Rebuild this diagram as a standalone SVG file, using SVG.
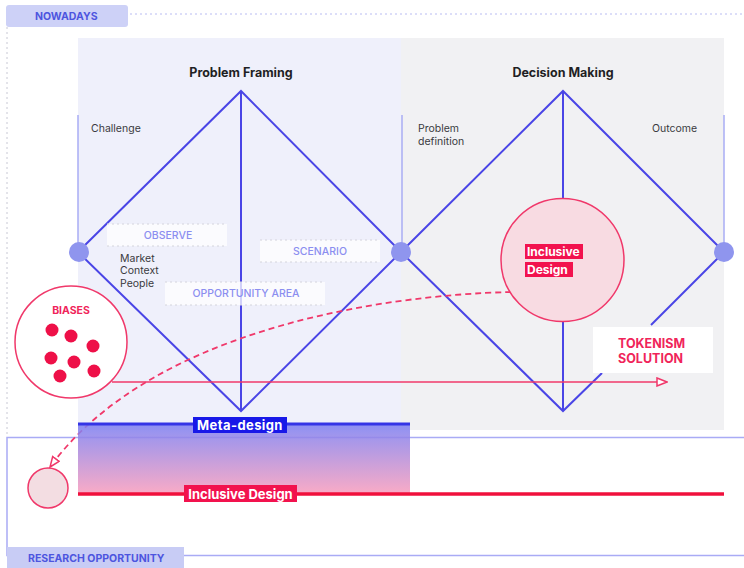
<svg xmlns="http://www.w3.org/2000/svg" width="744" height="568" viewBox="0 0 744 568">
<style>
text{font-family:Inter,"Liberation Sans",sans-serif}
.title{font-size:12.5px;font-weight:700;fill:#1f1f24;text-anchor:middle}
.lbl{font-size:10.5px;fill:#3a3a40}
.tag{font-size:10.5px;font-weight:500;fill:#8b8ef0;text-anchor:middle}
.tab{font-size:10.5px;font-weight:700;fill:#4d55df}
.dia{stroke:#4a45e6;stroke-width:2;fill:none}
.thin{stroke:#a9acf5;stroke-width:1.5}
.dot{fill:#8f95ee}
.dotline{stroke:#d4d4dc;stroke-width:1;stroke-dasharray:2 3}
.red{font-weight:700;fill:#f0245a}
.wt{font-weight:700;fill:#fff}
</style>
<defs>
<linearGradient id="grad" x1="0" y1="0" x2="0" y2="1">
<stop offset="0" stop-color="#7a7ef2"/>
<stop offset="1" stop-color="#f79cbd"/>
</linearGradient>
<marker id="openArrow" viewBox="0 0 12 10" refX="11" refY="5" markerWidth="12" markerHeight="10" markerUnits="userSpaceOnUse" orient="auto">
<path d="M1,1 L11,5 L1,9 Z" fill="#fff" stroke="#f0386a" stroke-width="1.5"/>
</marker>
</defs>

<!-- frames -->
<g id="frames">
<rect x="0" y="0" width="744" height="568" fill="#fff"/>
<rect x="78" y="38" width="323" height="392" fill="#eff0fb"/>
<rect x="401" y="38" width="323" height="392" fill="#f1f1f3"/>
<line x1="130" y1="14" x2="744" y2="14" stroke="#b9bcf2" stroke-width="1" stroke-dasharray="2 3"/>
<line x1="7" y1="27" x2="7" y2="437" stroke="#c8c8d4" stroke-width="1" stroke-dasharray="2 3"/>
<rect x="7" y="437.5" width="740" height="118" fill="none" stroke="#a9abf5" stroke-width="1.5"/>
</g>

<g id="tab-nowadays">
<rect x="6" y="5" width="122" height="22" rx="3" fill="#cdd1f7"/>
<text class="tab" x="35" y="20">NOWADAYS</text>
</g>

<g id="tab-research">
<rect x="7" y="547" width="177" height="21" fill="#c8ccf5"/>
<text class="tab" x="28" y="562">RESEARCH OPPORTUNITY</text>
</g>

<!-- connectors -->
<g id="connectors">
<line class="thin" x1="78" y1="115" x2="78" y2="252"/>
<line class="thin" x1="402" y1="115" x2="402" y2="252"/>
<line class="thin" x1="724" y1="115" x2="724" y2="252"/>
<path class="dia" d="M78,252 L241,91 L401,252 L241,411 Z"/>
<line class="dia" x1="241" y1="91" x2="241" y2="411"/>
<path class="dia" d="M401,252 L563,91 L724,252"/>
<path class="dia" d="M401,252 L563,411 L602,373"/>
<line class="dia" x1="724" y1="252" x2="651" y2="325"/>
<line class="dia" x1="563" y1="91" x2="563" y2="198"/>
<line class="dia" x1="563" y1="322" x2="563" y2="411"/>
<line x1="112" y1="382" x2="667" y2="382" stroke="#f0386a" stroke-width="1.5" marker-end="url(#openArrow)"/>
<path d="M511,292 C380,295 150,330 50,467" fill="none" stroke="#f0386a" stroke-width="1.8" stroke-dasharray="6 4" marker-end="url(#openArrow)"/>
</g>

<g id="problem-framing">
<text class="title" x="241" y="77">Problem Framing</text>
<text class="lbl" x="91" y="132">Challenge</text>
</g>

<g id="decision-making">
<text class="title" x="563" y="77">Decision Making</text>
<text class="lbl" x="418" y="132">Problem</text>
<text class="lbl" x="418" y="145">definition</text>
<text class="lbl" x="652" y="132">Outcome</text>
</g>

<g id="nodes-dots">
<circle class="dot" cx="79" cy="252" r="10"/>
<circle class="dot" cx="401" cy="252" r="10"/>
<circle class="dot" cx="724" cy="252" r="10"/>
</g>

<g id="observe">
<rect x="107" y="224" width="120" height="22" fill="#fff" fill-opacity="0.75"/>
<line class="dotline" x1="107" y1="224" x2="227" y2="224"/>
<line class="dotline" x1="107" y1="246" x2="227" y2="246"/>
<text class="tag" x="168" y="239">OBSERVE</text>
</g>
<g id="market">
<text class="lbl" x="120" y="262">Market</text>
<text class="lbl" x="120" y="274">Context</text>
<text class="lbl" x="120" y="287">People</text>
</g>
<g id="scenario">
<rect x="260" y="240" width="120" height="22" fill="#fff" fill-opacity="0.75"/>
<line class="dotline" x1="260" y1="240" x2="380" y2="240"/>
<line class="dotline" x1="260" y1="262" x2="380" y2="262"/>
<text class="tag" x="320" y="255">SCENARIO</text>
</g>
<g id="opportunity-area">
<rect x="165" y="282" width="160" height="23" fill="#fff" fill-opacity="0.75"/>
<line class="dotline" x1="165" y1="282" x2="325" y2="282"/>
<line class="dotline" x1="165" y1="305" x2="325" y2="305"/>
<text class="tag" x="246" y="297">OPPORTUNITY AREA</text>
</g>

<g id="biases">
<circle cx="71" cy="342" r="56" fill="#fff" stroke="#f0386a" stroke-width="1.5"/>
<text class="red" x="71" y="314" font-size="10.5" text-anchor="middle">BIASES</text>
<g fill="#ee1048">
<circle cx="52" cy="330" r="6.5"/>
<circle cx="71" cy="336" r="6.5"/>
<circle cx="93" cy="346" r="6.5"/>
<circle cx="51" cy="358" r="6.5"/>
<circle cx="74" cy="362" r="6.5"/>
<circle cx="94" cy="371" r="6.5"/>
<circle cx="60" cy="376" r="6.5"/>
</g>
</g>

<g id="inclusive-circle">
<circle cx="562.5" cy="260" r="61.5" fill="#f8dbe2" stroke="#f0386a" stroke-width="1.5"/>
<rect x="525" y="244" width="58" height="15" fill="#f2124e"/>
<rect x="525" y="262" width="48" height="15" fill="#f2124e"/>
<text class="wt" x="527" y="256" font-size="12">Inclusive</text>
<text class="wt" x="527" y="274" font-size="12">Design</text>
</g>

<g id="tokenism">
<rect x="593" y="327" width="120" height="46" fill="#fff"/>
<text class="red" x="618" y="348" font-size="12.5">TOKENISM</text>
<text class="red" x="618" y="363" font-size="12.5">SOLUTION</text>
</g>

<g id="meta-design">
<rect x="78" y="424" width="332" height="69" fill="url(#grad)" fill-opacity="0.85"/>
<line x1="78" y1="424" x2="410" y2="424" stroke="#3434e6" stroke-width="3"/>
<line x1="78" y1="494" x2="724" y2="494" stroke="#f0103c" stroke-width="3.5"/>
<rect x="193" y="417" width="94" height="16" fill="#1818e8"/>
<text class="wt" x="240" y="430" font-size="13" text-anchor="middle" letter-spacing="0.4">Meta-design</text>
<rect x="184" y="485" width="113" height="17" fill="#f2124e"/>
<text class="wt" x="240.5" y="498.5" font-size="13" text-anchor="middle">Inclusive Design</text>
</g>

<g id="small-circle">
<circle cx="48" cy="488" r="20" fill="#f3dde2" stroke="#f0386a" stroke-width="1.5"/>
</g>
</svg>
